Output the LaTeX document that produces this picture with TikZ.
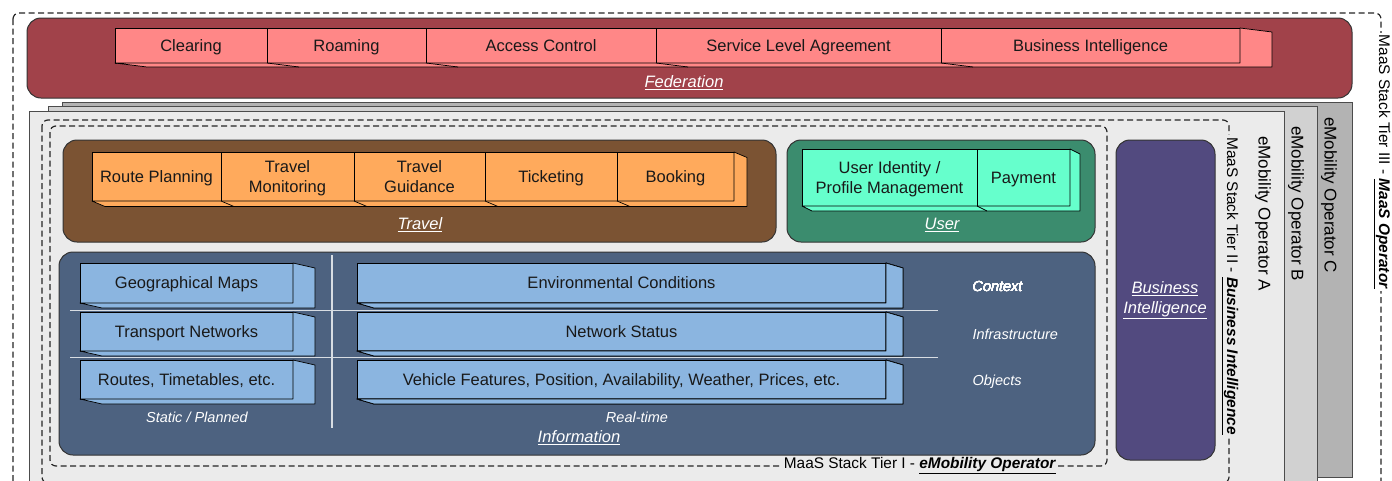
\documentclass[tikz,border=0pt]{standalone}
\usepackage{fontspec}
\setmainfont{Liberation Sans}
\usetikzlibrary{positioning}

\definecolor{fedred}{HTML}{A1424A}
\definecolor{fedpink}{HTML}{FF8787}
\definecolor{travelbrown}{HTML}{7B5333}
\definecolor{travelorange}{HTML}{FFAA5C}
\definecolor{usergreen}{HTML}{3B8C6E}
\definecolor{usermint}{HTML}{66FFCC}
\definecolor{infoslate}{HTML}{4D6280}
\definecolor{infoblue}{HTML}{8BB5E0}
\definecolor{bipurple}{HTML}{524A7F}
\definecolor{panelA}{HTML}{EBEBEB}
\definecolor{panelB}{HTML}{D1D1D1}
\definecolor{panelC}{HTML}{B3B3B3}
\definecolor{sepgrey}{HTML}{D8DDE3}

% bottom and right face of a row of slabs
\newcommand{\extrude}[5]{%
  \filldraw[fill=#5, draw=black, line width=0.7pt, line join=round]
    (#1.south west) -- ++(#3,#4) -- ([shift={(#3,#4)}]#2.south east)
    -- ([shift={(#3,#4)}]#2.north east) -- (#2.north east) -- (#2.south east) -- cycle;}

\begin{document}
\begin{tikzpicture}[x=1pt,y=-1pt,
    slab/.style={draw=black, line width=0.7pt, outer sep=0pt, inner sep=0pt, text depth=0pt,
      align=center, text=black!90, font=\fontsize{16.5}{20}\selectfont},
    fedbox/.style={slab, fill=fedpink, minimum height=35pt},
    travelbox/.style={slab, fill=travelorange, minimum height=49pt},
    userbox/.style={slab, fill=usermint, minimum height=57pt},
    infobox/.style={slab, fill=infoblue},
    container/.style={draw=black!80, line width=1pt, rounded corners=14pt},
    panel/.style={draw=black!70, line width=0.6pt},
    tierline/.style={draw=black!85, line width=1.2pt, dash pattern=on 6pt off 3.5pt, rounded corners=6pt},
    grouplabel/.style={text=white, font=\fontsize{16.5}{20}\selectfont\itshape},
    hintlabel/.style={text=white, font=\fontsize{14.5}{17}\selectfont\itshape},
    tierlabel/.style={inner sep=2pt, font=\fontsize{15.4}{18}\selectfont},
    oplabel/.style={rotate=-90, anchor=west, inner sep=0pt, font=\fontsize{17}{20}\selectfont},
    sepline/.style={draw=sepgrey, line width=1.2pt}]

  \useasboundingbox (0,0) rectangle (1392,480);
  \clip (0,0) rectangle (1392,480);
  \fill[white] (0,0) rectangle (1392,480);

  % operator panels
  \filldraw[panel, fill=panelC] (62,102) rectangle (1352,477);
  \filldraw[panel, fill=panelB] (48,106) rectangle (1317,482);
  \filldraw[panel, fill=panelA] (29,111) rectangle (1284,487);
  \node[oplabel] (opc) at (1329,117) {eMobility Operator C};
  \node[oplabel] (opb) at (1296,126) {eMobility Operator B};
  \node[oplabel] (opa) at (1263,136) {eMobility Operator A};

  % tier frames
  \draw[tierline] (13,13) rectangle (1381,520);
  \draw[tierline] (42,120) rectangle (1229,483);
  \draw[tierline] (50,126) rectangle (1107,466);
  \node[tierlabel, fill=white, rotate=-90] (tier3) at (1382,162)
    {MaaS Stack Tier III - \underline{\textbf{\textit{MaaS Operator}}}};
  \node[tierlabel, fill=panelA, rotate=-90] (tier2) at (1230,286)
    {MaaS Stack Tier II - \underline{\textbf{\textit{Business Intelligence}}}};
  \node[tierlabel, fill=panelA] (tier1) at (920,466)
    {MaaS Stack Tier I - \underline{\textbf{\textit{eMobility Operator}}}};

  % federation
  \filldraw[container, fill=fedred] (27,18) rectangle (1352,98);
  \node[fedbox, minimum width=152pt, anchor=north west] (fclear) at (115,28) {Clearing};
  \node[fedbox, minimum width=159pt, right=0pt of fclear] (froam) {Roaming};
  \node[fedbox, minimum width=230pt, right=0pt of froam] (facc) {Access Control};
  \node[fedbox, minimum width=285pt, right=0pt of facc] (fsla) {Service Level Agreement};
  \node[fedbox, minimum width=299pt, right=0pt of fsla] (fbi) {Business Intelligence};
  \extrude{fclear}{fbi}{32}{4}{fedpink}
  \foreach \n in {froam,facc,fsla,fbi}
    \draw[line width=0.7pt] (\n.south west) -- ++(32,4);
  \node[grouplabel] (fedlabel) at (684,83) {\underline{Federation}};

  % travel
  \filldraw[container, fill=travelbrown] (63,140) rectangle (776,242);
  \node[travelbox, minimum width=129pt, anchor=north west] (troute) at (92,152) {Route Planning};
  \node[travelbox, minimum width=133pt, right=0pt of troute] (tmon) {Travel\\Monitoring};
  \node[travelbox, minimum width=131pt, right=0pt of tmon] (tguide) {Travel\\Guidance};
  \node[travelbox, minimum width=132pt, right=0pt of tguide] (tticket) {Ticketing};
  \node[travelbox, minimum width=117pt, right=0pt of tticket] (tbook) {Booking};
  \extrude{troute}{tbook}{13}{5.5}{travelorange}
  \foreach \n in {tmon,tguide,tticket,tbook}
    \draw[line width=0.7pt] (\n.south west) -- ++(13,5.5);
  \node[grouplabel] (travellabel) at (420,225) {\underline{Travel}};

  % user
  \filldraw[container, fill=usergreen] (787,140) rectangle (1095,242);
  \node[userbox, minimum width=175pt, anchor=north west] (uid) at (802,149) {User Identity /\\Profile Management};
  \node[userbox, minimum width=93pt, right=0pt of uid] (upay) {Payment};
  \extrude{uid}{upay}{10}{5}{usermint}
  \draw[line width=0.7pt] (upay.south west) -- ++(10,5);
  \node[grouplabel] (userlabel) at (942,225) {\underline{User}};

  % information
  \filldraw[container, fill=infoslate] (59,252) rectangle (1095,455);
  \draw[sepline] (70,310.5) -- (938,310.5);
  \draw[sepline] (70,357.5) -- (938,357.5);
  \draw[sepline] (332,255) -- (332,428);
  \node[infobox, minimum width=213pt, minimum height=40pt, anchor=north west] (igeo) at (80,263) {Geographical Maps};
  \node[infobox, minimum width=213pt, minimum height=39pt, anchor=north west] (itrans) at (80,312) {Transport Networks};
  \node[infobox, minimum width=213pt, minimum height=39pt, anchor=north west] (iroute) at (80,360) {Routes, Timetables, etc.};
  \node[infobox, minimum width=529pt, minimum height=40pt, anchor=north west] (ienv) at (357,263) {Environmental Conditions};
  \node[infobox, minimum width=529pt, minimum height=39pt, anchor=north west] (inet) at (357,312) {Network Status};
  \node[infobox, minimum width=529pt, minimum height=39pt, anchor=north west] (iveh) at (357,360) {Vehicle Features, Position, Availability, Weather, Prices, etc.};
  \foreach \n in {igeo,itrans,iroute}
    \extrude{\n}{\n}{22}{5}{infoblue}
  \foreach \n in {ienv,inet,iveh}
    \extrude{\n}{\n}{17}{5}{infoblue}
  \node[hintlabel, anchor=west] (context) at (969,287) {Context};
  \node[hintlabel, anchor=west] (infra) at (969,334) {Infrastructure};
  \node[hintlabel, anchor=west] (objects) at (969,382) {Objects};
  \node[hintlabel] (static) at (197,417) {Static / Planned};
  \node[hintlabel] (realtime) at (637,417) {Real-time};
  \node[grouplabel] (infolabel) at (579,438) {\underline{Information}};

  % business intelligence
  \filldraw[container, fill=bipurple] (1116,140) rectangle (1215,460);
  \node[grouplabel, align=center] (bilabel) at (1165,300) {\underline{Business}\\\underline{Intelligence}};
\end{tikzpicture}
\end{document}
